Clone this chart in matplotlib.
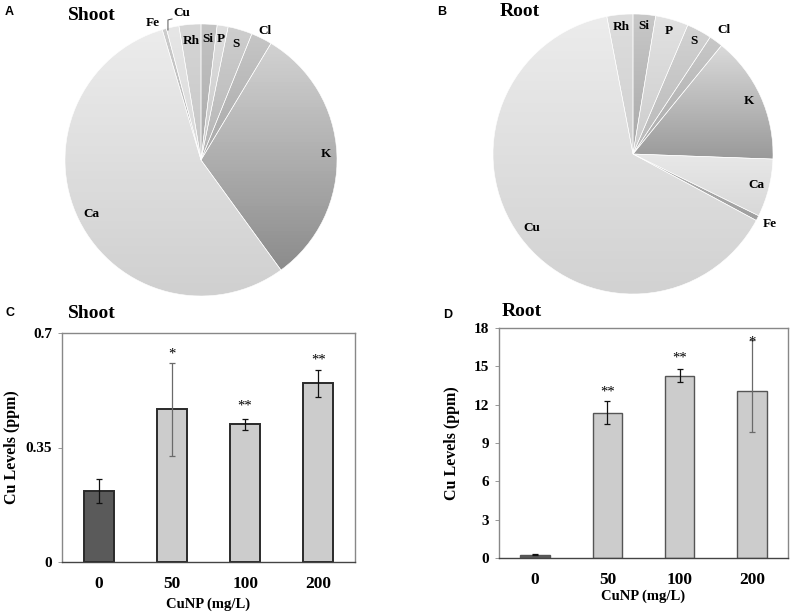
import numpy as np
import matplotlib
matplotlib.use("Agg")
import matplotlib.pyplot as plt
from matplotlib.colors import LinearSegmentedColormap

plt.rcParams["font.family"] = ["Liberation Serif", "DejaVu Serif"]
plt.rcParams["font.weight"] = "bold"

W, H = 795, 616

# pie data (share of total, %), clockwise from 12 o'clock
elements = ["Si", "P", "S", "Cl", "K", "Ca", "Fe", "Cu", "Rh"]
shoot_share = [1.9, 1.3, 2.9, 2.5, 31.4, 55.4, 0.5, 1.5, 2.6]
root_share = [2.6, 3.8, 2.9, 1.6, 14.7, 6.7, 0.6, 64.2, 3.0]

# bar data
doses = ["0", "50", "100", "200"]
shoot_cu = [0.217, 0.467, 0.421, 0.547]
shoot_err_lo = [0.037, 0.143, 0.016, 0.043]
shoot_err_hi = [0.037, 0.141, 0.016, 0.039]
shoot_sig = ["", "*", "**", "**"]
root_cu = [0.27, 11.37, 14.27, 13.10]
root_err_lo = [0.06, 0.86, 0.50, 3.24]
root_err_hi = [0.06, 0.89, 0.55, 3.93]
root_sig = ["", "**", "**", "*"]

# styles
shoot_grad = [("#c4c4c4", "#a9a9a9"), ("#dedede", "#c9c9c9"), ("#cecece", "#b5b5b5"),
              ("#c6c6c6", "#a8a8a8"), ("#d2d2d2", "#8c8c8c"), ("#ececec", "#d0d0d0"),
              ("#cdcdcd", "#b0b0b0"), ("#e6e6e6", "#dadada"), ("#d6d6d6", "#c6c6c6")]
root_grad = [("#c8c8c8", "#a8a8a8"), ("#e2e2e2", "#cccccc"), ("#d2d2d2", "#b8b8b8"),
             ("#c8c8c8", "#aaaaaa"), ("#dadada", "#9a9a9a"), ("#e8e8e8", "#d8d8d8"),
             ("#b0b0b0", "#a0a0a0"), ("#ececec", "#d2d2d2"), ("#dddddd", "#d0d0d0")]
shoot_lab_r = [.89, .9, .89, 1.06, .92, .9, None, None, .88]
root_lab_r = [.92, .915, .915, 1.1, .91, .91, 1.1, .9, .91]

fig = plt.figure(figsize=(W / 100, H / 100), dpi=100)


def px_axes(x0, y0, x1, y1):
    return fig.add_axes([x0 / W, 1 - y1 / H, (x1 - x0) / W, (y1 - y0) / H])


def draw_pie(cx, cy, r, shares, grads, lab_r):
    half = 1.2 * r
    ax = px_axes(cx - half, cy - half, cx + half, cy + half)
    wedges, _ = ax.pie(shares, startangle=90, counterclock=False, radius=1,
                       wedgeprops=dict(edgecolor="white", linewidth=0.4))
    for w, (ctop, cbot) in zip(wedges, grads):
        w.set_facecolor("none")
        ext = w.get_path().get_extents()
        cmap = LinearSegmentedColormap.from_list("g", [cbot, ctop])
        grad = np.linspace(1, 0, 64).reshape(-1, 1)
        im = ax.imshow(grad, cmap=cmap, aspect="auto", vmin=0, vmax=1,
                       extent=[ext.x0, ext.x1, ext.y0, ext.y1], zorder=0)
        im.set_clip_path(w)
    for w, name, rr in zip(wedges, elements, lab_r):
        if rr is None:
            continue
        mid = np.deg2rad((w.theta1 + w.theta2) / 2)
        ax.text(rr * np.cos(mid), rr * np.sin(mid), name, ha="center", va="center",
                fontsize=9.5, fontweight="bold", clip_on=False)
    ax.set_xlim(-1.2, 1.2)
    ax.set_ylim(-1.2, 1.2)
    ax.set_aspect("equal")
    ax.axis("off")
    return ax


axA = draw_pie(201, 160, 136, shoot_share, shoot_grad, shoot_lab_r)
ang = np.deg2rad(90 + 19.3)
axA.text(1.07 * np.cos(ang), 1.07 * np.sin(ang), "Fe", ha="center", va="center",
         fontsize=9.5, fontweight="bold")
axA.plot([-0.243, -0.243, -0.213], [0.956, 1.03, 1.037], color="#555555", lw=0.7,
         clip_on=False)
axA.text(-0.2, 1.08, "Cu", ha="left", va="center", fontsize=9.5, fontweight="bold",
         clip_on=False)

draw_pie(633, 154, 140, root_share, root_grad, root_lab_r)


def draw_bars(box, vals, lo, hi, sig, ymax, yticks, yticklabels, star_off, edge, ew):
    ax = px_axes(*box)
    x = np.arange(len(doses))
    colors = ["#5a5a5a"] + ["#cccccc"] * (len(doses) - 1)
    ax.bar(x, vals, width=0.41, color=colors, edgecolor=edge, linewidth=ew, zorder=2)
    for i in x:
        ecol = "#6a6a6a" if (hi[i] / max(vals[i], 1e-9)) > 0.2 and i > 0 else "#111111"
        ax.errorbar(i, vals[i], yerr=[[lo[i]], [hi[i]]], fmt="none", ecolor=ecol,
                    elinewidth=0.9, capsize=2.2, capthick=0.9, zorder=3)
        if sig[i]:
            ax.annotate(sig[i], (i, vals[i] + hi[i]), xytext=(0, star_off[i]),
                        textcoords="offset points", ha="center", va="bottom",
                        fontsize=10.5, fontweight="normal")
    ax.set_xlim(-0.5, len(doses) - 0.5)
    ax.set_ylim(0, ymax)
    ax.set_yticks(yticks)
    ax.set_yticklabels(yticklabels, fontsize=11, fontweight="bold")
    ax.set_xticks(x)
    ax.set_xticklabels(doses, fontsize=12.5, fontweight="bold")
    ax.tick_params(axis="x", length=0, pad=10)
    ax.tick_params(axis="y", length=3, width=0.6, color="#888888", pad=4, direction="out")
    for s in ax.spines.values():
        s.set_color("#888888")
        s.set_linewidth(1.0)
    ax.spines["bottom"].set_color("#444444")
    return ax


axC = draw_bars((62, 333, 355, 562), shoot_cu, shoot_err_lo, shoot_err_hi, shoot_sig,
                0.7, [0, 0.35, 0.7], ["0", "0.35", "0.7"], [0, 2, 5, 3], "#2a2a2a", 1.4)
axC.set_ylabel("Cu Levels (ppm)", fontsize=11.5, fontweight="bold")
axC.yaxis.set_label_coords(-42 / 293, 0.5)
axC.set_xlabel("CuNP (mg/L)", fontsize=10.5, fontweight="bold", labelpad=4)

axD = draw_bars((499, 328, 788, 558), root_cu, root_err_lo, root_err_hi, root_sig,
                18, np.arange(0, 19, 3), [str(v) for v in range(0, 19, 3)], [0, 2, 3, -6],
                "#555555", 1.0)
axD.set_ylabel("Cu Levels (ppm)", fontsize=11.5, fontweight="bold")
axD.yaxis.set_label_coords(-39 / 289, 0.5)
axD.set_xlabel("CuNP (mg/L)", fontsize=10.5, fontweight="bold", labelpad=1)

# titles and panel letters
for (x, y, t) in [(68, 15, "Shoot"), (500, 12, "Root"), (68, 314, "Shoot"), (502, 311, "Root")]:
    fig.text(x / W, 1 - y / H, t, fontsize=14, fontweight="bold", va="center", ha="left")
for (x, y, t) in [(5, 12, "A"), (437, 12, "B"), (5, 313, "C"), (443, 315, "D")]:
    fig.text(x / W, 1 - y / H, t, fontsize=9, fontweight="bold", va="center", ha="left",
             family="Liberation Sans")

fig.savefig("out.png", dpi=100)
